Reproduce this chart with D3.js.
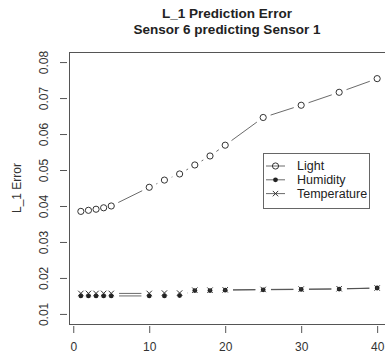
<!DOCTYPE html>
<html>
<head>
<meta charset="utf-8">
<script src="https://cdn.jsdelivr.net/npm/d3@7"></script>
<style>
  body { margin: 0; background: #fff; }
  svg { display: block; font-family: "Liberation Sans", Arial, sans-serif; }
  .tick text { fill: #333; }
</style>
</head>
<body>
<svg id="chart" width="385" height="356"></svg>
<script>
// window sizes
const steps = [1, 2, 3, 4, 5, 10, 12, 14, 16, 18, 20, 25, 30, 35, 40];
const lightErr = [0.0385, 0.0388, 0.0391, 0.0395, 0.0400, 0.0452, 0.0472, 0.0489, 0.0514, 0.0539, 0.0569, 0.0646, 0.0680, 0.0716, 0.0754];
const humidityErr = [0.0150, 0.0150, 0.0150, 0.0150, 0.0150, 0.0150, 0.0150, 0.0151, 0.0165, 0.0165, 0.0166, 0.0167, 0.0168, 0.0169, 0.0172];
const tempErr = [0.0157, 0.0157, 0.0157, 0.0157, 0.0157, 0.0157, 0.0158, 0.0158, 0.0166, 0.0166, 0.0167, 0.0168, 0.0169, 0.0170, 0.0172];
const seriesNames = ['Light', 'Humidity', 'Temperature'];
const xTicks = [0, 10, 20, 30, 40];
const yTicks = [0.01, 0.02, 0.03, 0.04, 0.05, 0.06, 0.07, 0.08];

const margin = { top: 52, left: 69, right: 389, bottom: 324 };
const ink = '#333';

const svg = d3.select('#chart');

// R style 4% padding on both axes
const x = d3.scaleLinear().domain([-0.56, 41.56]).range([margin.left, margin.right]);
const y = d3.scaleLinear().domain([0.0072, 0.0828]).range([margin.bottom, margin.top]);

// titles
svg.append('text')
  .attr('x', 227).attr('y', 18)
  .attr('text-anchor', 'middle')
  .attr('font-size', '13.5px').attr('font-weight', 'bold').attr('fill', '#222')
  .text('L_1 Prediction Error');
svg.append('text')
  .attr('x', 227).attr('y', 34)
  .attr('text-anchor', 'middle')
  .attr('font-size', '13.5px').attr('font-weight', 'bold').attr('fill', '#222')
  .text('Sensor 6 predicting Sensor 1');

// box
svg.append('rect')
  .attr('x', margin.left + 0.5).attr('y', margin.top + 0.5)
  .attr('width', margin.right - margin.left).attr('height', margin.bottom - margin.top)
  .attr('fill', 'none').attr('stroke', '#555');

// axes
const xAxis = svg.append('g')
  .attr('transform', 'translate(0,' + (margin.bottom + 2) + ')')
  .call(d3.axisBottom(x).tickValues(xTicks).tickSize(7).tickPadding(9).tickFormat(d3.format('d')));
xAxis.select('.domain').remove();
xAxis.selectAll('line').attr('stroke', '#555');
xAxis.selectAll('text').attr('font-size', '12px');

const yAxis = svg.append('g')
  .attr('transform', 'translate(' + (margin.left - 2) + ',0)')
  .call(d3.axisLeft(y).tickValues(yTicks).tickSize(7).tickFormat(d3.format('.2f')));
yAxis.select('.domain').remove();
yAxis.selectAll('line').attr('stroke', '#555');
yAxis.selectAll('text')
  .attr('font-size', '12px')
  .attr('text-anchor', 'middle')
  .attr('dy', 0)
  .attr('x', 0)
  .attr('transform', 'translate(-19,0) rotate(-90)');

svg.append('text')
  .attr('transform', 'translate(21,' + ((margin.top + margin.bottom) / 2) + ') rotate(-90)')
  .attr('text-anchor', 'middle')
  .attr('font-size', '12px').attr('fill', '#333')
  .text('L_1 Error');

// type="b" lines: segments with a gap around every point
const gap = 7.8;
function gappedLines(g, values) {
  for (let i = 0; i < steps.length - 1; i++) {
    const x1 = x(steps[i]), y1 = y(values[i]), x2 = x(steps[i + 1]), y2 = y(values[i + 1]);
    const d = Math.hypot(x2 - x1, y2 - y1);
    if (d <= 2 * gap) continue;
    const ux = (x2 - x1) / d, uy = (y2 - y1) / d;
    g.append('line')
      .attr('x1', x1 + ux * gap).attr('y1', y1 + uy * gap)
      .attr('x2', x2 - ux * gap).attr('y2', y2 - uy * gap)
      .attr('stroke', '#444').attr('stroke-width', 0.8);
  }
}

function drawMark(g, kind, cx, cy) {
  if (kind === 0) {
    g.append('circle').attr('cx', cx).attr('cy', cy).attr('r', 3.1)
      .attr('fill', 'none').attr('stroke', ink).attr('stroke-width', 1);
  } else if (kind === 1) {
    g.append('circle').attr('cx', cx).attr('cy', cy).attr('r', 2.4)
      .attr('fill', '#222');
  } else {
    const s = 2.7;
    g.append('path')
      .attr('d', `M${cx - s},${cy - s}L${cx + s},${cy + s}M${cx - s},${cy + s}L${cx + s},${cy - s}`)
      .attr('stroke', ink).attr('stroke-width', 1);
  }
}

const allSeries = [lightErr, humidityErr, tempErr];
allSeries.forEach((vals, k) => {
  const g = svg.append('g').attr('class', 'series-' + k);
  gappedLines(g, vals);
  vals.forEach((v, i) => drawMark(g, k, x(steps[i]), y(v)));
});

// legend
const legend = svg.append('g').attr('transform', 'translate(263,153)');
legend.append('rect')
  .attr('x', 0.5).attr('y', 0.5).attr('width', 106).attr('height', 55)
  .attr('fill', '#fff').attr('stroke', '#666');
seriesNames.forEach((name, k) => {
  const ly = 13 + k * 13.8;
  legend.append('line')
    .attr('x1', 3).attr('x2', 22).attr('y1', ly).attr('y2', ly)
    .attr('stroke', '#444').attr('stroke-width', 0.8);
  drawMark(legend, k, 12.5, ly);
  legend.append('text')
    .attr('x', 34).attr('y', ly + 4.3)
    .attr('font-size', '12.5px').attr('fill', '#222')
    .text(name);
});
</script>
</body>
</html>
